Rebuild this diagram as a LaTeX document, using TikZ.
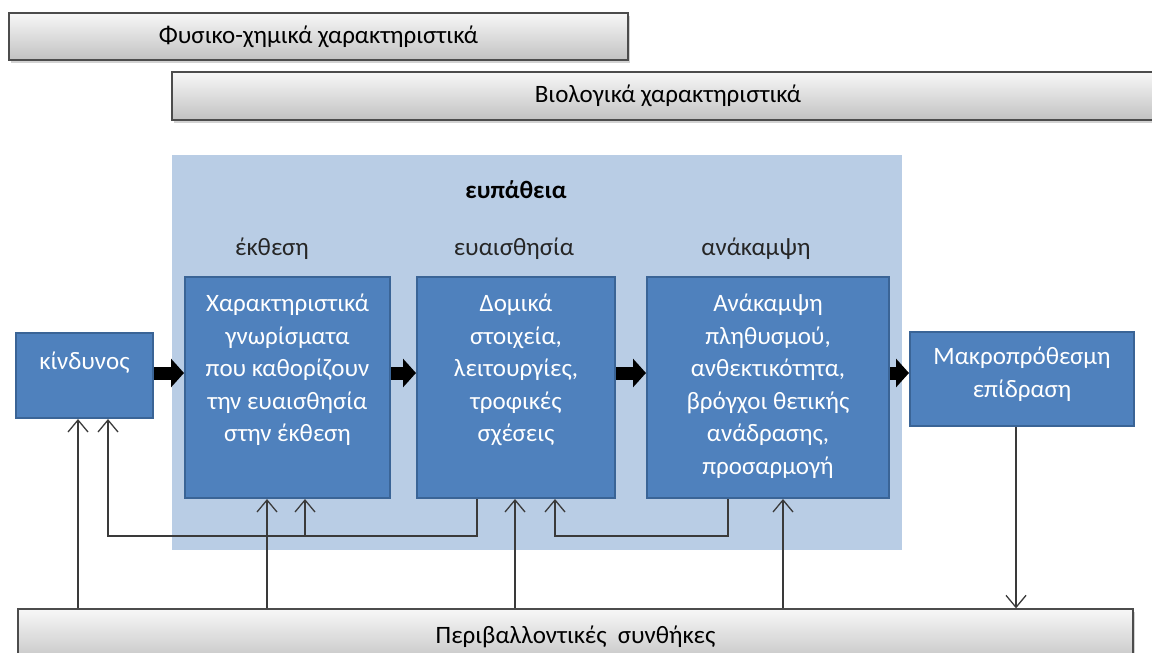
\documentclass[tikz,border=0pt]{standalone}
\usepackage{fontspec}
\setmainfont{Carlito}
\usetikzlibrary{arrows.meta,shadows}
\definecolor{boxblue}{HTML}{4F81BD}
\definecolor{boxedge}{HTML}{3A6496}
\definecolor{regionblue}{HTML}{B9CDE5}
\definecolor{lineclr}{HTML}{3A3A3A}
\newcommand{\bxt}[3]{\begin{minipage}[c][#1][t]{#2}\centering\vspace*{#3}}
\begin{document}
\begin{tikzpicture}[x=1pt,y=-1pt,
  every node/.style={font=\fontsize{25}{32.5}\selectfont},
  graybar/.style={draw=black!70, line width=1.3pt, top color=black!3, bottom color=black!24,
    drop shadow={shadow xshift=1.5pt, shadow yshift=-2.5pt, opacity=0.35}, inner sep=0pt, text=black},
  bluebox/.style={draw=boxedge, line width=2pt, fill=boxblue, text=white, inner sep=0pt},
  stage/.style={text=black!85, inner sep=0pt, anchor=base},
  flow/.style={draw=black, line width=13pt, -{Triangle[length=13pt,width=28pt]}},
  fb/.style={draw=lineclr, line width=1.3pt, -{Straight Barb[length=12pt,width=20pt,line width=1.3pt]}}
]
\useasboundingbox (0,0) rectangle (1152,653);
\fill[white] (0,0) rectangle (1152,653);

\node[graybar, minimum width=619pt, minimum height=47pt] (phys) at (318.5,36.5) {Φυσικο-χημικά χαρακτηριστικά};
\node[graybar, minimum width=992pt, minimum height=48pt] (bio) at (668,96) {Βιολογικά χαρακτηριστικά};

\node[fill=regionblue, minimum width=730pt, minimum height=395pt, inner sep=0pt] (vul) at (537,352.5) {};

\node[stage, font=\bfseries\fontsize{25}{32.5}\selectfont, text=black] (vlab) at (516,198) {ευπάθεια};
\node[stage] (l1) at (272,255) {έκθεση};
\node[stage] (l2) at (514,255) {ευαισθησία};
\node[stage] (l3) at (756,255) {ανάκαμψη};

\node[bluebox, minimum width=137pt, minimum height=85pt] (kin) at (84.5,375.5)
  {\bxt{85pt}{135pt}{14pt}\strut κίνδυνος\end{minipage}};
\node[bluebox, minimum width=205pt, minimum height=221pt] (b1) at (287.5,387.5)
  {\bxt{221pt}{203pt}{12pt}\strut Χαρακτηριστικά\\γνωρίσματα\\που καθορίζουν\\την ευαισθησία\\στην έκθεση\end{minipage}};
\node[bluebox, minimum width=198pt, minimum height=221pt] (b2) at (516,387.5)
  {\bxt{221pt}{196pt}{12pt}\strut Δομικά\\στοιχεία,\\λειτουργίες,\\τροφικές\\σχέσεις\end{minipage}};
\node[bluebox, minimum width=242pt, minimum height=221pt] (b3) at (768,387.5)
  {\bxt{221pt}{240pt}{12pt}\strut Ανάκαμψη\\πληθυσμού,\\ανθεκτικότητα,\\βρόγχοι θετικής\\ανάδρασης,\\προσαρμογή\end{minipage}};
\node[bluebox, minimum width=224pt, minimum height=94pt] (b4) at (1022,379)
  {\bxt{94pt}{222pt}{10pt}\strut Μακροπρόθεσμη\\επίδραση\end{minipage}};

\node[graybar, minimum width=1115pt, minimum height=56pt] (bot) at (575.5,637) {Περιβαλλοντικές\ \ συνθήκες};

% thick flow arrows
\coordinate (fy) at (0,373);
\draw[flow] (kin.east |- fy) -- (b1.west |- fy);
\draw[flow] (b1.east |- fy) -- (b2.west |- fy);
\draw[flow] (b2.east |- fy) -- (b3.west |- fy);
\draw[flow] (b3.east |- fy) -- (b4.west |- fy);

% feedback connectors
\coordinate (p1) at (477,536);
\coordinate (p2) at (108,536);
\coordinate (p3) at (305,536);
\coordinate (p4) at (728,536);
\coordinate (p5) at (555,536);
\draw[fb] (b2.south -| p1) -- (p1) -- (p2) -- (p2 |- kin.south);
\draw[fb] (p3) -- (p3 |- b1.south);
\draw[fb] (b3.south -| p4) -- (p4) -- (p5) -- (p5 |- b2.south);

% environment connectors
\coordinate (q1) at (78,0);
\coordinate (q2) at (267,0);
\coordinate (q3) at (515,0);
\coordinate (q4) at (783,0);
\coordinate (q5) at (1016,0);
\draw[fb] (bot.north -| q1) -- (kin.south -| q1);
\draw[fb] (bot.north -| q2) -- (b1.south -| q2);
\draw[fb] (bot.north -| q3) -- (b2.south -| q3);
\draw[fb] (bot.north -| q4) -- (b3.south -| q4);
\draw[fb] (b4.south -| q5) -- (bot.north -| q5);
\end{tikzpicture}
\end{document}
